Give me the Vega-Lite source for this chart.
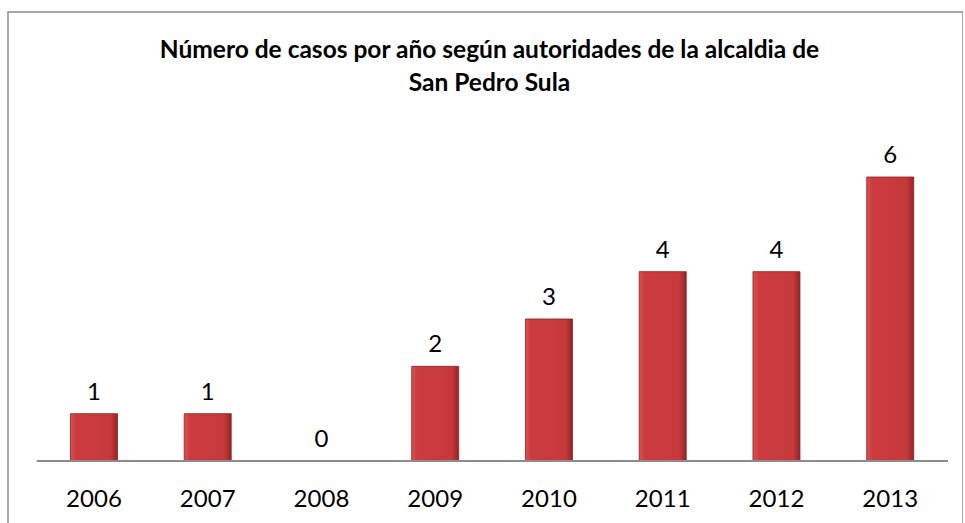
{
  "$schema": "https://vega.github.io/schema/vega-lite/v6.json",
  "width": 955,
  "height": 523,
  "autosize": {"type": "none"},
  "padding": {"left": 8, "top": 12, "right": 0, "bottom": 0},
  "background": "white",
  "config": {
    "view": {"stroke": "#8c8c8c", "strokeWidth": 1.5},
    "font": "Lato"
  },
  "title": {
    "text": ["Número de casos por año según autoridades de la alcaldia de", "San Pedro Sula"],
    "font": "Lato",
    "fontSize": 24.5,
    "fontWeight": "bold",
    "color": "#000000",
    "anchor": "middle",
    "frame": "group",
    "baseline": "alphabetic",
    "lineHeight": 33,
    "offset": 0,
    "dx": 4,
    "dy": 103
  },
  "data": {
    "values": [
      {"year": "2006", "casos": 1},
      {"year": "2007", "casos": 1},
      {"year": "2008", "casos": 0},
      {"year": "2009", "casos": 2},
      {"year": "2010", "casos": 3},
      {"year": "2011", "casos": 4},
      {"year": "2012", "casos": 4},
      {"year": "2013", "casos": 6}
    ]
  },
  "encoding": {
    "x": {
      "field": "year",
      "type": "nominal",
      "sort": null,
      "scale": {"paddingInner": 0.5868, "paddingOuter": 0.4912, "align": 0.559},
      "axis": {
        "orient": "bottom",
        "offset": -74,
        "domain": false,
        "ticks": false,
        "tickSize": 0,
        "labelAngle": 0,
        "labelFont": "Lato",
        "labelFontSize": 24,
        "labelColor": "#000000",
        "labelBaseline": "alphabetic",
        "labelPadding": 45,
        "title": null,
        "grid": false
      }
    }
  },
  "layer": [
    {
      "mark": {
        "type": "bar",
        "stroke": "#8a2022",
        "strokeWidth": 0.8,
        "color": {
          "gradient": "linear",
          "x1": 0, "x2": 1, "y1": 0, "y2": 0,
          "stops": [
            {"offset": 0, "color": "#d85252"},
            {"offset": 0.12, "color": "#cc3c3e"},
            {"offset": 0.85, "color": "#c6393b"},
            {"offset": 1, "color": "#962426"}
          ]
        }
      },
      "encoding": {
        "y": {"field": "casos", "type": "quantitative", "scale": {"domain": [-1.5635, 9.486], "nice": false, "zero": false}, "axis": null},
        "y2": {"datum": 0}
      }
    },
    {
      "mark": {"type": "text", "font": "Lato", "fontSize": 24, "color": "#000000", "baseline": "alphabetic", "dy": -14},
      "encoding": {
        "y": {"field": "casos", "type": "quantitative"},
        "text": {"field": "casos", "type": "quantitative"}
      }
    },
    {
      "mark": {"type": "rule", "color": "#8c8c8c", "strokeWidth": 2},
      "encoding": {
        "x": {"datum": "2006", "bandPosition": -0.713},
        "x2": {"datum": "2013", "bandPosition": 1.729},
        "y": {"datum": 0}
      }
    }
  ]
}
